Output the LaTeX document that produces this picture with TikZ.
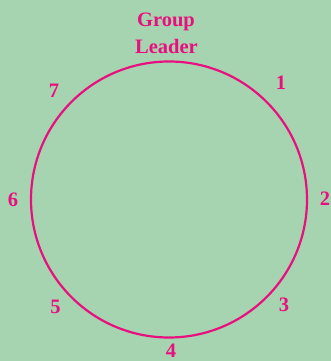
\documentclass[tikz,border=0pt]{standalone}
\usepackage{fontspec}
\setmainfont{Liberation Serif}
\definecolor{bg}{HTML}{A6D4B0}
\definecolor{pinkc}{HTML}{E8107E}
\begin{document}
\begin{tikzpicture}[x=1pt,y=-1pt,
  lbl/.style={text=pinkc, font=\fontsize{20.5}{22}\selectfont\bfseries, inner sep=0pt, anchor=base},
  ring/.style={circle, draw=pinkc, line width=2.2pt, minimum size=276pt, inner sep=0pt}]
\fill[bg] (0,0) rectangle (331,361);
\useasboundingbox (0,0) rectangle (331,361);
\node[ring] (c) at (169,199.5) {};
\node[lbl] (g1) at (166,27) {Group};
\node[lbl] (g2) at (166.5,53) {Leader};
\node[lbl] (n1) at (281,89) {1};
\node[lbl] (n2) at (325,205) {2};
\node[lbl] (n3) at (284,311) {3};
\node[lbl] (n4) at (171,357) {4};
\node[lbl] (n5) at (55.5,313) {5};
\node[lbl] (n6) at (13,206) {6};
\node[lbl] (n7) at (54,97) {7};
\end{tikzpicture}
\end{document}
